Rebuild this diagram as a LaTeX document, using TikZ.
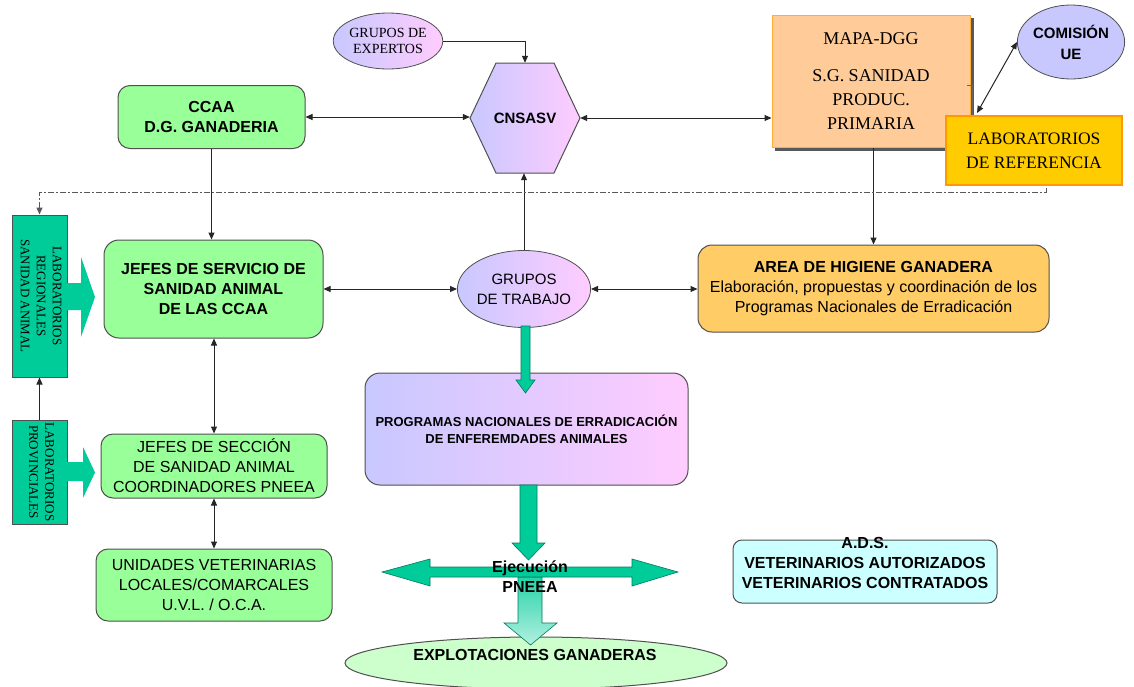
\documentclass[tikz,border=0pt]{standalone}
\usepackage{fontspec}
\setmainfont{Liberation Serif}
\setsansfont{Liberation Sans}
\usetikzlibrary{arrows.meta,shapes.geometric,calc}
\definecolor{greenfill}{HTML}{99FF99}
\definecolor{tealfill}{HTML}{00CC99}
\definecolor{lav}{HTML}{C8C8FF}
\definecolor{pnk}{HTML}{FFCCFF}
\definecolor{peach}{HTML}{FFCC99}
\definecolor{goldfill}{HTML}{FFCC00}
\definecolor{orng}{HTML}{FF9900}
\definecolor{areafill}{HTML}{FFCC66}
\definecolor{cyanfill}{HTML}{CCFFFF}
\definecolor{palegreen}{HTML}{CCFFCC}
\definecolor{bord}{HTML}{505050}
\newcommand\fsz[2]{\fontsize{#1}{#2}\selectfont}
\begin{document}
\begin{tikzpicture}[x=1pt,y=-1pt,
  every node/.style={font=\sffamily, text=black},
  greenbox/.style={draw=bord, line width=1pt, fill=greenfill, rounded corners=12pt, align=center},
  conn/.style={draw=black!85, line width=1pt},
  dbl/.style={conn, {Triangle[length=7pt,width=6pt]}-{Triangle[length=7pt,width=6pt]}},
  sgl/.style={conn, -{Triangle[length=7pt,width=6pt]}},
  blockarrow/.style={fill=tealfill, draw=tealfill!60!black, line width=0.6pt},
  labtext/.style={rotate=-90, align=center, font=\rmfamily\fsz{13}{16}}
]
\useasboundingbox (0,0) rectangle (1134,686);
\fill[white] (0,0) rectangle (1134,686);

% ---- top row ----
\node[ellipse, draw=bord, line width=0.8pt, left color=lav, right color=pnk,
      minimum width=84pt, minimum height=56pt, inner sep=0pt, align=center,
      font=\rmfamily\fsz{14}{16}] (exp) at (388,41) {GRUPOS DE\\EXPERTOS};

\shade[left color=lav, right color=pnk, draw=bord, line width=1pt]
  (470,118) -- (496,63) -- (554,63) -- (580,118) -- (554,173) -- (496,173) -- cycle;
\node[font=\sffamily\bfseries\fsz{15}{18}, minimum width=110pt, minimum height=110pt, inner sep=0pt]
  (cns) at (525,118) {CNSASV};

\node[greenbox, minimum width=187pt, minimum height=63pt, font=\sffamily\bfseries\fsz{16}{20}]
  (ccaa) at (211.5,117) {CCAA\\D.G. GANADERIA};

\fill[black!65] (775,18) rectangle (974,151);
\node[draw=orng!80, line width=1pt, fill=peach, minimum width=198pt, minimum height=132pt,
      align=center, font=\rmfamily\fsz{18}{24}] (mapa) at (871,81)
      {MAPA-DGG\\[13pt]S.G. SANIDAD\\PRODUC.\\PRIMARIA};

\node[ellipse, draw=bord, line width=0.8pt, fill=lav, minimum width=106pt, minimum height=74pt,
      inner sep=0pt, align=center, font=\sffamily\bfseries\fsz{15}{21}] (com) at (1071,42)
      {COMISIÓN\\UE};

\draw[black!60, line width=1pt] (967,85) -- (972,85) -- (972,115) -- (1106,115);
\node[draw=orng, line width=1.2pt, fill=goldfill, minimum width=176pt, minimum height=69pt,
      align=center, font=\rmfamily\fsz{17.5}{24}] (labref) at (1034,150.5)
      {LABORATORIOS\\DE REFERENCIA};
\coordinate (comlow) at (977,113);

% ---- middle row ----
\node[draw=bord, line width=1pt, fill=tealfill, minimum width=55pt, minimum height=162pt] (labr) at (39.5,296) {};
\node[labtext] (labrtext) at (41,296) {LABORATORIOS\\REGIONALES\\SANIDAD ANIMAL};
\fill[tealfill] (66,283) -- (81,283) -- (81,257) -- (95,297) -- (81,337) -- (81,310) -- (66,310) -- cycle;

\node[greenbox, rounded corners=15pt, minimum width=219pt, minimum height=98pt,
      font=\sffamily\bfseries\fsz{16}{20}] (jefes) at (213.5,289)
      {JEFES DE SERVICIO DE\\SANIDAD ANIMAL\\DE LAS CCAA};

\node[ellipse, draw=bord, line width=0.8pt, left color=lav, right color=pnk,
      minimum width=122pt, minimum height=77pt, inner sep=0pt, align=center,
      font=\sffamily\fsz{15}{20}] (trab) at (524,289) {GRUPOS\\DE TRABAJO};

\node[draw=bord, line width=1pt, fill=areafill, rounded corners=14pt, minimum width=351pt,
      minimum height=87pt, align=center, font=\sffamily\fsz{16}{20}] (area) at (873.5,288.5)
      {\textbf{AREA DE HIGIENE GANADERA}\\Elaboración, propuestas y coordinación de los\\Programas Nacionales de Erradicación};

\node[draw=bord, line width=1pt, left color=lav, right color=pnk, rounded corners=15pt,
      minimum width=323pt, minimum height=112pt, align=center,
      font=\sffamily\bfseries\fsz{13}{17}] (prog) at (526.5,429)
      {PROGRAMAS NACIONALES DE ERRADICACIÓN\\DE ENFEREMDADES ANIMALES};
\draw[blockarrow] (521,326) -- (530,326) -- (530,380) -- (535,380) -- (525.5,393) -- (516,380) -- (521,380) -- cycle;

% ---- lower left ----
\node[draw=bord, line width=1pt, fill=tealfill, minimum width=55pt, minimum height=104pt] (labp) at (39.5,472) {};
\node[labtext] (labptext) at (41.5,472) {LABORATORIOS\\PROVINCIALES};
\fill[tealfill] (66,462) -- (83,462) -- (83,447) -- (95,472.5) -- (83,498) -- (83,481) -- (66,481) -- cycle;

\node[greenbox, minimum width=226pt, minimum height=64pt, font=\sffamily\fsz{16}{20}]
  (secc) at (214,466) {JEFES DE SECCIÓN\\DE SANIDAD ANIMAL\\COORDINADORES PNEEA};
\node[greenbox, minimum width=236pt, minimum height=72pt, font=\sffamily\fsz{16}{20}]
  (unid) at (214,585) {UNIDADES VETERINARIAS\\LOCALES/COMARCALES\\U.V.L. / O.C.A.};

% ---- ADS ----
\node[draw=bord, line width=1pt, fill=cyanfill, rounded corners=9pt, minimum width=264pt,
      minimum height=63pt] (ads) at (865,571.5) {};
\node[align=center, font=\sffamily\bfseries\fsz{16}{20}] (adstext) at (865,563)
  {A.D.S.\\VETERINARIOS AUTORIZADOS\\VETERINARIOS CONTRATADOS};

% ---- bottom ----
\node[ellipse, draw=bord, line width=1pt, fill=palegreen, minimum width=382pt, minimum height=52pt] (expl) at (536,663) {};
\draw[blockarrow] (520,485) -- (537,485) -- (537,543) -- (545,543) -- (528.5,560) -- (512,543) -- (520,543) -- cycle;
\shade[top color=tealfill!85, bottom color=tealfill!30, draw=tealfill!60!black, line width=0.6pt]
  (518,577) -- (542,577) -- (542,623) -- (557,623) -- (530.5,645) -- (504,623) -- (518,623) -- cycle;
\draw[blockarrow] (382,572) -- (430,559) -- (430,567) -- (632,567) -- (632,559) -- (678,572)
  -- (632,586) -- (632,577) -- (430,577) -- (430,586) -- cycle;
\node[align=center, font=\sffamily\bfseries\fsz{16}{20}] (ejec) at (530,577) {Ejecución\\PNEEA};
\node[font=\sffamily\bfseries\fsz{16}{20}] (expltext) at (535,655) {EXPLOTACIONES GANADERAS};

% ---- connectors ----
\draw[sgl] (exp.east) -| (cns.north);
\draw[dbl] (ccaa.east) -- (ccaa.east -| cns.west);
\draw[dbl] (cns.east) -- (cns.east -| mapa.west);
\draw[dbl] (comlow) -- (com.west);
\draw[sgl] (area.north |- mapa.south) -- (area.north);
\draw[sgl] (ccaa.south) -- (ccaa.south |- jefes.north);
\draw[dbl] (jefes.east) -- (jefes.east -| trab.west);
\draw[dbl] (trab.east) -- (trab.east -| area.west);
\draw[sgl] (trab.north) -- (trab.north |- cns.south);
\draw[dbl] (jefes.south -| secc.north) -- (secc.north);
\draw[dbl] (secc.south) -- (secc.south |- unid.north);
\draw[sgl] (labp.north) -- (labr.south);
\coordinate (dd) at (1046,188);
\draw[draw=black!65, line width=1pt, dash pattern=on 6pt off 2pt on 2pt off 2pt,
      -{Triangle[length=7pt,width=6pt]}] (dd) -- ++(0,4) -| (labr.north);
\end{tikzpicture}
\end{document}
